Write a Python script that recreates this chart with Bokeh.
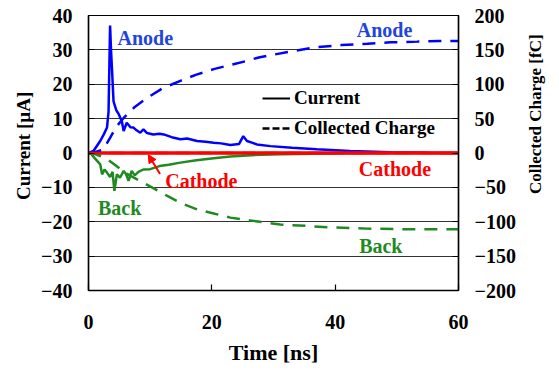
import math
from bokeh.plotting import figure
from bokeh.models import (Range1d, LinearAxis, FixedTicker, Label, Legend, LegendItem,
                          Arrow, NormalHead)
from bokeh.embed import file_html
from bokeh.resources import INLINE

# ---------------- data ----------------
anode_t = [0, 0.8, 1.9, 2.5, 3.0, 3.25, 3.5, 3.65, 3.8, 4.06, 4.5, 4.9, 5.4, 5.7, 6.2, 6.8,
           7.3, 7.8, 8.4, 8.9, 9.5, 10.5, 11.5, 12.2, 13.5, 14.9, 16.0, 17.6, 19.0, 20.3,
           21.5, 23.0, 24.4, 25.1, 25.7, 26.5, 27.3, 29.5, 33.0, 37.0, 42.4, 49.0, 55.0, 60.0]
anode_i = [0, 0.6, 3.5, 5.5, 7.4, 12.0, 37.1, 30.0, 24.8, 15.0, 12.5, 11.3, 9.3, 6.4, 8.8, 7.5,
           7.4, 6.6, 5.9, 6.9, 5.8, 5.4, 5.6, 5.4, 4.6, 4.0, 4.2, 3.5, 3.3, 3.0,
           2.8, 2.3, 2.6, 4.9, 3.5, 3.0, 2.5, 2.0, 1.5, 1.1, 0.6, 0.2, 0.05, 0.0]

back_t = [0, 0.3, 1.0, 1.9, 2.2, 2.6, 3.0, 3.5, 3.9, 4.2, 4.6, 5.1, 5.7, 6.1, 6.5, 7.0, 7.5,
          8.1, 8.9, 10.0, 11.5, 13.0, 14.9, 17.5, 20.3, 23.0, 25.7, 28.0, 31.1, 36.5, 42.0,
          50.0, 60.0]
back_i = [0, 0, -1.5, -3.3, -6.2, -4.8, -5.7, -7.0, -5.5, -11.0, -6.2, -7.2, -5.2, -6.2, -8.1,
          -5.2, -6.5, -5.5, -4.8, -4.7, -3.8, -3.4, -2.8, -2.1, -1.5, -1.0, -0.7, -0.5, -0.4,
          -0.2, -0.1, 0, 0]

cathode_t = [0, 10, 20, 30, 40, 50, 60]
cathode_i = [0, 0, 0, 0, 0, 0, 0]

anode_q_t = [0, 1, 2.4, 3.5, 4.5, 5.7, 7.5, 9.5, 12, 14.9, 17.5, 20.3, 23, 25.7, 27.6, 30,
             33, 37, 41, 45.2, 49, 53.3, 57, 60]
anode_q = [0, 1, 5, 22, 38, 51, 67, 80, 94, 105, 114, 122, 128, 134, 139, 143,
           148, 154, 157, 159, 161, 162, 163, 163]

back_q_t = [0, 1, 1.9, 3, 4.1, 6, 8.4, 10.5, 12.7, 15, 17.6, 20.3, 23, 26.2, 28.5, 31.1,
            35.4, 38.7, 45.2, 52, 60]
back_q = [0, -1.5, -4.4, -9, -16, -29, -41, -51, -62, -73, -82, -88, -94, -98, -101, -104,
          -106, -108, -110, -111, -111]

cathode_q_t = [0, 20, 40, 60]
cathode_q = [0, 0, 0, 0]

x_ticks = [0, 20, 40, 60]
left_ticks = [-40, -30, -20, -10, 0, 10, 20, 30, 40]
right_ticks = [-200, -150, -100, -50, 0, 50, 100, 150, 200]

# ---------------- style ----------------
FONT = "Liberation Serif"
BLUE = "#0000ff"
BLUE_TXT = "#2244dd"
RED = "#ff0000"
GREEN = "#1f8a1f"
NB = "\u00a0"

p = figure(width=559, height=370, x_range=Range1d(0, 60), y_range=Range1d(-40, 40),
           output_backend="svg", toolbar_location=None,
           min_border_left=88, min_border_right=101, min_border_top=15, min_border_bottom=80)
p.extra_y_ranges = {"charge": Range1d(-200, 200)}

p.xgrid.visible = False
p.ygrid.ticker = FixedTicker(ticks=left_ticks)
p.ygrid.grid_line_color = "#333333"
p.ygrid.grid_line_width = 1
p.outline_line_color = "black"
p.outline_line_width = 1.2
p.background_fill_color = "white"
p.border_fill_color = "white"

def style_axis(ax):
    ax.axis_line_color = "black"
    ax.axis_line_width = 1.5
    ax.major_tick_in = 6
    ax.major_tick_out = 0
    ax.minor_tick_line_color = None
    ax.major_tick_line_color = "black"
    ax.major_tick_line_width = 1.2
    ax.major_label_text_font = FONT
    ax.major_label_text_font_style = "bold"
    ax.major_label_text_font_size = "20px"
    ax.major_label_text_color = "black"
    ax.axis_label_text_font = FONT
    ax.axis_label_text_font_style = "bold"
    ax.axis_label_text_font_size = "20px"
    ax.axis_label_text_color = "black"

xa = p.xaxis[0]
style_axis(xa)
xa.ticker = FixedTicker(ticks=x_ticks)
xa.axis_label = "Time [ns]"
xa.axis_label_text_font_size = "22px"
xa.major_label_standoff = 24
xa.axis_label_standoff = 8

ya = p.yaxis[0]
style_axis(ya)
ya.ticker = FixedTicker(ticks=left_ticks)
ya.axis_label = NB * 3 + "Current [µA]"
ya.axis_label_text_font_size = "19px"
ya.major_label_standoff = 16
ya.axis_label_standoff = 4

ra = LinearAxis(y_range_name="charge", ticker=FixedTicker(ticks=right_ticks))
style_axis(ra)
ra.major_label_standoff = 16
p.add_layout(ra, "right")

# right-axis title, drawn as a rotated single tick label of an extra bare axis
TITLE_AT = -59.6
rt = LinearAxis(y_range_name="charge", ticker=FixedTicker(ticks=[TITLE_AT]),
                major_label_overrides={TITLE_AT: "Collected Charge [fC]"},
                major_label_orientation=math.pi / 2)
style_axis(rt)
rt.axis_line_color = None
rt.major_tick_line_color = None
rt.major_tick_in = 0
rt.major_label_text_font_size = "17px"
rt.major_label_standoff = 17
p.add_layout(rt, "right")

# ---------------- series ----------------
p.line(anode_t, anode_i, line_color=BLUE, line_width=2.5)
p.line(back_t, back_i, line_color=GREEN, line_width=2.5)
p.line(cathode_t, cathode_i, line_color=RED, line_width=3.5)
p.line(anode_q_t, anode_q, y_range_name="charge", line_color=BLUE, line_width=2.5,
       line_dash="13 9")
p.line(back_q_t, back_q, y_range_name="charge", line_color=GREEN, line_width=2.5,
       line_dash="13 9")
p.line(cathode_q_t, cathode_q, y_range_name="charge", line_color=RED, line_width=2.5,
       line_dash="13 9")

# legend (black samples)
nan = float("nan")
d1 = p.line([0, 1], [nan, nan], line_color="black", line_width=2)
d2 = p.line([0, 1], [nan, nan], line_color="black", line_width=2.5, line_dash="7 3")
legend = Legend(items=[LegendItem(label="Current", renderers=[d1]),
                       LegendItem(label="Collected Charge", renderers=[d2])],
                location=(174, 151), border_line_alpha=0, background_fill_alpha=0,
                glyph_width=28, glyph_height=20, label_height=20, spacing=8,
                padding=0, margin=0, label_standoff=4,
                label_text_font=FONT, label_text_font_style="bold",
                label_text_font_size="19px", label_text_color="black")
p.add_layout(legend)

# ---------------- annotations ----------------
def lab(x, y, text, color, **kw):
    p.add_layout(Label(x=x, y=y, text=text, text_color=color, text_font=FONT,
                       text_font_style="bold", text_font_size="20px",
                       text_align="center", text_baseline="middle", **kw))

lab(9.2, 33.4, "Anode", BLUE_TXT)
lab(48.0, 35.8, "Anode", BLUE_TXT)
lab(18.3, -8.1, "Cathode", RED)
lab(49.7, -4.65, "Cathode", RED)
lab(5.06, -16.1, "Back", GREEN)
lab(47.4, -27.0, "Back", GREEN)

p.add_layout(Arrow(end=NormalHead(size=8, fill_color=RED, line_color=RED),
                   x_start=11.6, y_start=-6.1, x_end=9.7, y_end=-0.5,
                   line_color=RED, line_width=2))

open("out.html", "w").write(file_html(p, INLINE))
